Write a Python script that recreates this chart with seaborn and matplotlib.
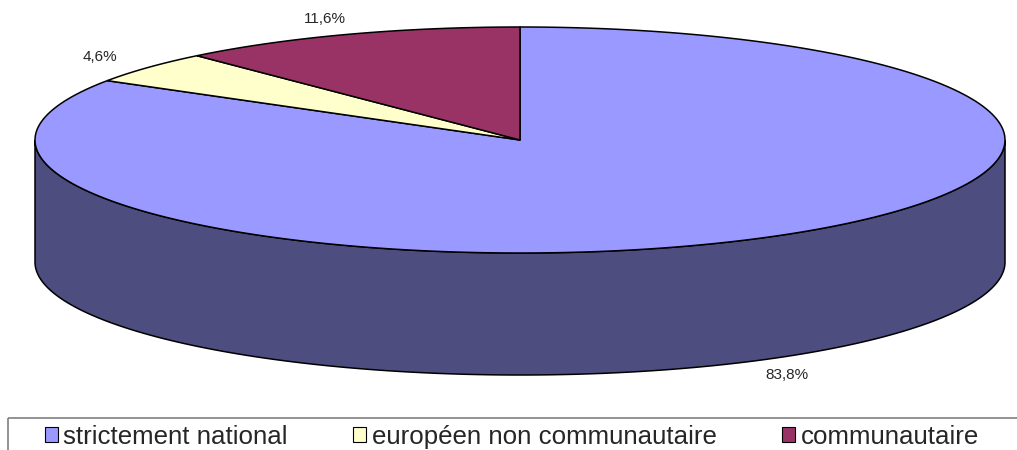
import numpy as np
import matplotlib
matplotlib.use("Agg")
import matplotlib.pyplot as plt
from matplotlib.patches import Polygon, Rectangle, Patch
import seaborn as sns

# data
categories = ["strictement national", "européen non communautaire", "communautaire"]
shares = [83.8, 4.6, 11.6]
pct_labels = ["83,8%", "4,6%", "11,6%"]

sns.set_style("white")
plt.rcParams['font.family'] = ['Liberation Sans', 'DejaVu Sans']

top_colors = sns.color_palette(["#9999FF", "#FFFFCC", "#993366"])
side_colors = [tuple(v * 0.5 for v in c) for c in top_colors]

# ellipse geometry in pixels
cx, cy = 520, 140
rx, ry = 485, 113
depth = 122

fig = plt.figure(figsize=(10.17, 4.5), dpi=100)
ax = fig.add_axes([0, 0, 1, 1])
ax.set_xlim(0, 1017)
ax.set_ylim(450, 0)
ax.axis('off')


def arc(t0, t1, dy=0, n=300):
    t = np.linspace(t0, t1, n)
    return np.column_stack([cx + rx * np.sin(t), cy - ry * np.cos(t) + dy])


bounds = np.concatenate([[0], np.cumsum(shares)]) / sum(shares) * 2 * np.pi

# side wall (front half only)
for i in range(len(shares)):
    lo = max(bounds[i], np.pi / 2)
    hi = min(bounds[i + 1], 3 * np.pi / 2)
    if hi > lo:
        pts = np.vstack([arc(lo, hi), arc(lo, hi, depth)[::-1]])
        ax.add_patch(Polygon(pts, closed=True, facecolor=side_colors[i],
                             edgecolor='black', linewidth=1.1))

# top face
for i in range(len(shares)):
    pts = np.vstack([[cx, cy], arc(bounds[i], bounds[i + 1])])
    ax.add_patch(Polygon(pts, closed=True, facecolor=top_colors[i],
                         edgecolor='black', linewidth=1.1, joinstyle='miter'))

# percentage labels
for i in range(len(shares)):
    mid = (bounds[i] + bounds[i + 1]) / 2
    lx = cx + 1.13 * rx * np.sin(mid)
    ly = cy - 1.15 * ry * np.cos(mid)
    if np.cos(mid) < 0:
        ly += depth
    ax.text(lx, ly, pct_labels[i], ha='center', va='center', fontsize=11)

# legend frame (runs off the right/bottom edge)
ax.add_patch(Rectangle((8, 418), 1030, 60, fill=False, edgecolor='#808080',
                       linewidth=1.2))

handles = [Patch(facecolor=c, edgecolor='black', linewidth=0.8) for c in top_colors]
fig.legend(handles, categories, loc='upper left', bbox_to_anchor=(45 / 1017, 1 - 425 / 450),
           ncol=3, frameon=False, fontsize=18.6, handlelength=0.5, handleheight=0.5,
           handletextpad=0.2, columnspacing=2.55, borderaxespad=0, borderpad=0)

fig.savefig('out.png', dpi=100)
